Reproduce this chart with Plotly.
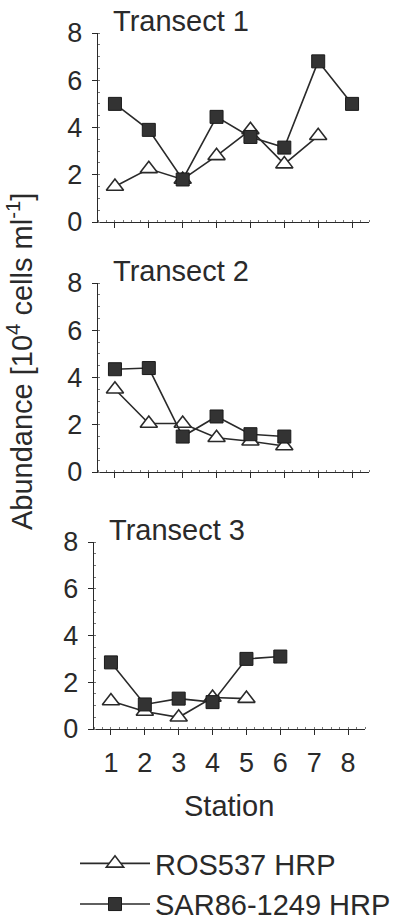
import plotly.graph_objects as go

# Stations sampled along each transect
stations_t1 = [1, 2, 3, 4, 5, 6, 7, 8]
stations_t2 = [1, 2, 3, 4, 5, 6]
stations_t3_ros = [1, 2, 3, 4, 5]
stations_t3_sar = [1, 2, 3, 4, 5, 6]

# Abundance [10^4 cells ml^-1]
ros_t1 = [1.5, 2.25, 1.8, 2.8, 3.9, 2.45, 3.65]
sar_t1 = [5.0, 3.9, 1.8, 4.45, 3.6, 3.15, 6.8, 5.0]
ros_t2 = [3.5, 2.05, 2.05, 1.45, 1.3, 1.1]
sar_t2 = [4.35, 4.4, 1.5, 2.35, 1.6, 1.5]
ros_t3 = [1.2, 0.75, 0.5, 1.35, 1.3]
sar_t3 = [2.85, 1.05, 1.3, 1.15, 3.0, 3.1]

panel_titles = ["Transect 1", "Transect 2", "Transect 3"]
y_ticks = [0, 2, 4, 6, 8]
x_ticks = [1, 2, 3, 4, 5, 6, 7, 8]
series_names = ["ROS537 HRP", "SAR86-1249 HRP"]

W, H = 413, 924
INK = "#2a2a2a"
FONT = "Liberation Sans, Arial, Helvetica, sans-serif"

# pixel boxes of the three panels: (left, right, top, bottom)
boxes = [(98, 369, 33, 222), (98, 369, 283, 472), (94, 365, 542, 729)]

ros_style = dict(symbol="triangle-up", size=15, color="white",
                 line=dict(color=INK, width=1.6))
sar_style = dict(symbol="square", size=13, color="#333333",
                 line=dict(color="#1a1a1a", width=1))

fig = go.Figure()

data = [
    (stations_t1[:len(ros_t1)], ros_t1, stations_t1, sar_t1),
    (stations_t2, ros_t2, stations_t2, sar_t2),
    (stations_t3_ros, ros_t3, stations_t3_sar, sar_t3),
]

for i, (xr, yr, xs, ys) in enumerate(data):
    ax = "" if i == 0 else str(i + 1)
    fig.add_trace(go.Scatter(
        x=xr, y=yr, mode="lines+markers", name=series_names[0],
        line=dict(color=INK, width=1.6), marker=ros_style,
        xaxis="x" + ax, yaxis="y" + ax, showlegend=(i == 0),
        legendrank=1, cliponaxis=False))
    fig.add_trace(go.Scatter(
        x=xs, y=ys, mode="lines+markers", name=series_names[1],
        line=dict(color=INK, width=1.6), marker=sar_style,
        xaxis="x" + ax, yaxis="y" + ax, showlegend=(i == 0),
        legendrank=2, cliponaxis=False))

layout = dict(
    template="none",
    width=W, height=H,
    margin=dict(l=0, r=0, t=0, b=0, autoexpand=False),
    paper_bgcolor="white", plot_bgcolor="white",
    font=dict(family=FONT, color=INK),
    showlegend=True,
    legend=dict(
        x=75 / W, y=-6 / H, xanchor="left", yanchor="bottom",
        font=dict(size=29, family=FONT, color=INK),
        itemwidth=70, tracegroupgap=0, bgcolor="rgba(0,0,0,0)",
        borderwidth=0, traceorder="normal",
    ),
)

annotations = []
for i, (l, r, t, b) in enumerate(boxes):
    ax = "" if i == 0 else str(i + 1)
    layout["xaxis" + ax] = dict(
        domain=[l / W, r / W], range=[0.5, 8.5], anchor="y" + ax,
        tickvals=x_ticks, ticktext=[str(v) for v in x_ticks],
        showticklabels=(i == 2), ticks="outside", ticklen=5,
        tickwidth=1.2, tickcolor=INK,
        tickfont=dict(size=27, color=INK), ticklabelstandoff=4,
        showline=True, linecolor=INK, linewidth=1.4, automargin=False,
        showgrid=False, zeroline=False, fixedrange=True,
        minor=dict(dtick=0.25, ticks="inside", ticklen=2, tickcolor="#777"),
    )
    layout["yaxis" + ax] = dict(
        domain=[1 - b / H, 1 - t / H], range=[0, 8], anchor="x" + ax,
        tickvals=y_ticks, ticks="outside", ticklen=5, tickwidth=1.2,
        tickcolor=INK, tickfont=dict(size=27, color=INK),
        ticklabelstandoff=4, automargin=False,
        showline=True, linecolor=INK, linewidth=1.4,
        showgrid=False, zeroline=False, fixedrange=True,
        minor=dict(dtick=0.5, ticks="inside", ticklen=2, tickcolor="#777"),
    )
    annotations.append(dict(
        text=panel_titles[i], x=(l + 13) / W, y=1 - (t - 12) / H,
        xref="paper", yref="paper", xanchor="left", yanchor="middle",
        showarrow=False, font=dict(size=29, color=INK, family=FONT)))

annotations.append(dict(
    text="Station", x=229 / W, y=1 - 806 / H, xref="paper", yref="paper",
    xanchor="center", yanchor="middle", showarrow=False,
    font=dict(size=29, color=INK, family=FONT)))
annotations.append(dict(
    text="Abundance [10<sup>4</sup> cells ml<sup>-1</sup>]",
    x=20 / W, y=1 - 362 / H, xref="paper", yref="paper",
    xanchor="center", yanchor="middle", textangle=-90, showarrow=False,
    font=dict(size=29, color=INK, family=FONT)))

layout["annotations"] = annotations
fig.update_layout(**layout)
fig.write_html("out.html")
